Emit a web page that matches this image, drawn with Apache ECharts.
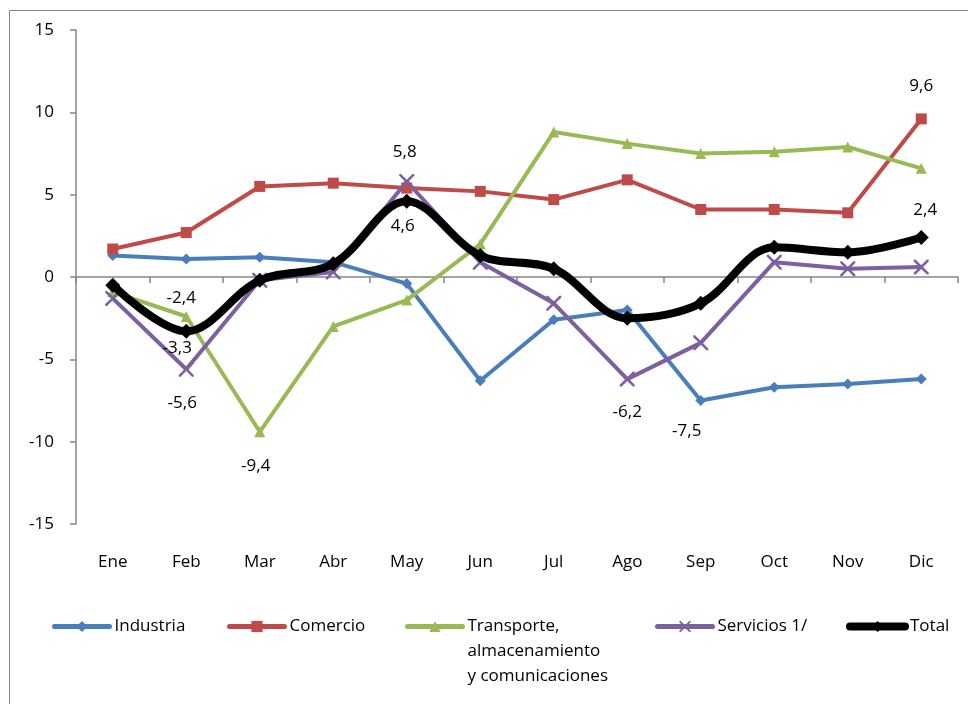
<!DOCTYPE html>
<html>
<head>
<meta charset="utf-8">
<script src="https://cdn.jsdelivr.net/npm/echarts@6/dist/echarts.min.js"></script>
<style>
  html, body { margin: 0; padding: 0; background: #fff; }
  #chart { width: 968px; height: 704px; }
</style>
</head>
<body>
<div id="chart"></div>
<script>
const months = ["Ene", "Feb", "Mar", "Abr", "May", "Jun", "Jul", "Ago", "Sep", "Oct", "Nov", "Dic"];

const industria = [1.3, 1.1, 1.2, 0.9, -0.4, -6.3, -2.6, -2.0, -7.5, -6.7, -6.5, -6.2];
const comercio = [1.7, 2.7, 5.5, 5.7, 5.4, 5.2, 4.7, 5.9, 4.1, 4.1, 3.9, 9.6];
const transporte = [-0.9, -2.4, -9.4, -3.0, -1.4, 2.0, 8.8, 8.1, 7.5, 7.6, 7.9, 6.6];
const servicios = [-1.3, -5.6, -0.2, 0.3, 5.8, 0.9, -1.6, -6.2, -4.0, 0.9, 0.5, 0.6];
const total = [-0.5, -3.3, -0.2, 0.8, 4.6, 1.3, 0.5, -2.5, -1.6, 1.8, 1.5, 2.4];

const yMin = -15;
const yMax = 15;
const yStep = 5;

const FONT = "Open Sans";
const FS = 17;
const GRAY = "#868686";

// cross marker for "Servicios"
const CROSS = "path://M0,0L1.2,0L5,3.8L8.8,0L10,0L10,1.2L6.2,5L10,8.8L10,10L8.8,10L5,6.2L1.2,10L0,10L0,8.8L3.8,5L0,1.2Z";

const fmt = v => String(v).replace(".", ",");

// which points carry a data label, and where it sits relative to the marker
function mkSeries(name, values, color, symbol, symbolSize, width, labelAt, extra) {
  return Object.assign({
    name,
    type: "line",
    data: values.map((v, i) => labelAt[i]
      ? { value: v, label: { show: true, offset: labelAt[i] } }
      : v),
    symbol,
    symbolSize,
    showAllSymbol: true,
    lineStyle: { color, width },
    itemStyle: { color },
    label: {
      show: false,
      position: "inside",
      color: "#000",
      fontFamily: FONT,
      fontSize: FS,
      formatter: p => fmt(p.value),
    },
    emphasis: { disabled: true },
  }, extra || {});
}

const series = [
  mkSeries("Industria", industria, "#4A7EBB", "diamond", 11, 4, { 8: [-14, 31] }),
  mkSeries("Comercio", comercio, "#BE4B48", "rect", 11, 4, { 11: [0, -33] }),
  mkSeries("Transporte,\nalmacenamiento\ny comunicaciones", transporte, "#98B954", "triangle", 11, 4,
    { 1: [-5, -18], 2: [-4, 34] }),
  mkSeries("Servicios 1/", servicios, "#7D60A0", CROSS, 15, 4,
    { 1: [-4, 34], 4: [-2, -29], 7: [0, 33] }),
  mkSeries("Total", total, "#000000", "diamond", 15, 8,
    { 1: [-9, 17], 4: [-4, 25], 11: [4, -27] }, { smooth: 0.35, z: 5 }),
];

const legendSpots = [
  { name: "Industria", left: 52, top: 614, w: 5 },
  { name: "Comercio", left: 227, top: 614, w: 5 },
  { name: "Transporte,\nalmacenamiento\ny comunicaciones", left: 405, top: 564, w: 5, multi: true },
  { name: "Servicios 1/", left: 655, top: 614, w: 5 },
  { name: "Total", left: 846, top: 614, w: 8 },
];

const legend = legendSpots.map(s => ({
  data: [s.name],
  left: s.left,
  top: s.top,
  padding: 0,
  itemWidth: 55,
  itemHeight: 14,
  selectedMode: false,
  lineStyle: { width: s.w, cap: "round" },
  // two blank lines on top keep the first line level with the icon
  formatter: name => (s.multi ? "\n\n" : "") + name,
  textStyle: {
    color: "#000",
    fontFamily: FONT,
    fontSize: FS,
    lineHeight: 25,
  },
}));

const chart = echarts.init(document.getElementById("chart"), null, { renderer: "canvas" });
chart.setOption({
  animation: false,
  backgroundColor: "#fff",
  graphic: [{
    type: "rect",
    shape: { x: 9.5, y: 10.5, width: 980, height: 720 },
    style: { fill: null, stroke: GRAY, lineWidth: 1 },
    silent: true,
    z: -10,
  }],
  grid: { left: 76, right: 10, top: 30, bottom: 180 },
  legend,
  xAxis: [
    {
      type: "category",
      data: months,
      position: "bottom",
      axisLine: { show: false, onZero: false },
      axisTick: { show: false },
      axisLabel: { color: "#000", fontFamily: FONT, fontSize: FS, margin: 30 },
      splitLine: { show: false },
    },
    {
      type: "category",
      data: months,
      position: "bottom",
      axisLine: { show: true, onZero: true, lineStyle: { color: GRAY, width: 1.5 } },
      axisTick: { show: true, length: 6, lineStyle: { color: GRAY, width: 1.5 } },
      axisLabel: { show: false },
      splitLine: { show: false },
    },
  ],
  yAxis: {
    type: "value",
    min: yMin,
    max: yMax,
    interval: yStep,
    axisLine: { show: true, lineStyle: { color: GRAY, width: 1.5 } },
    axisTick: { show: true, length: 6, lineStyle: { color: GRAY, width: 1.5 } },
    axisLabel: { color: "#000", fontFamily: FONT, fontSize: FS, margin: 22 },
    splitLine: { show: false },
  },
  series,
});
</script>
</body>
</html>
